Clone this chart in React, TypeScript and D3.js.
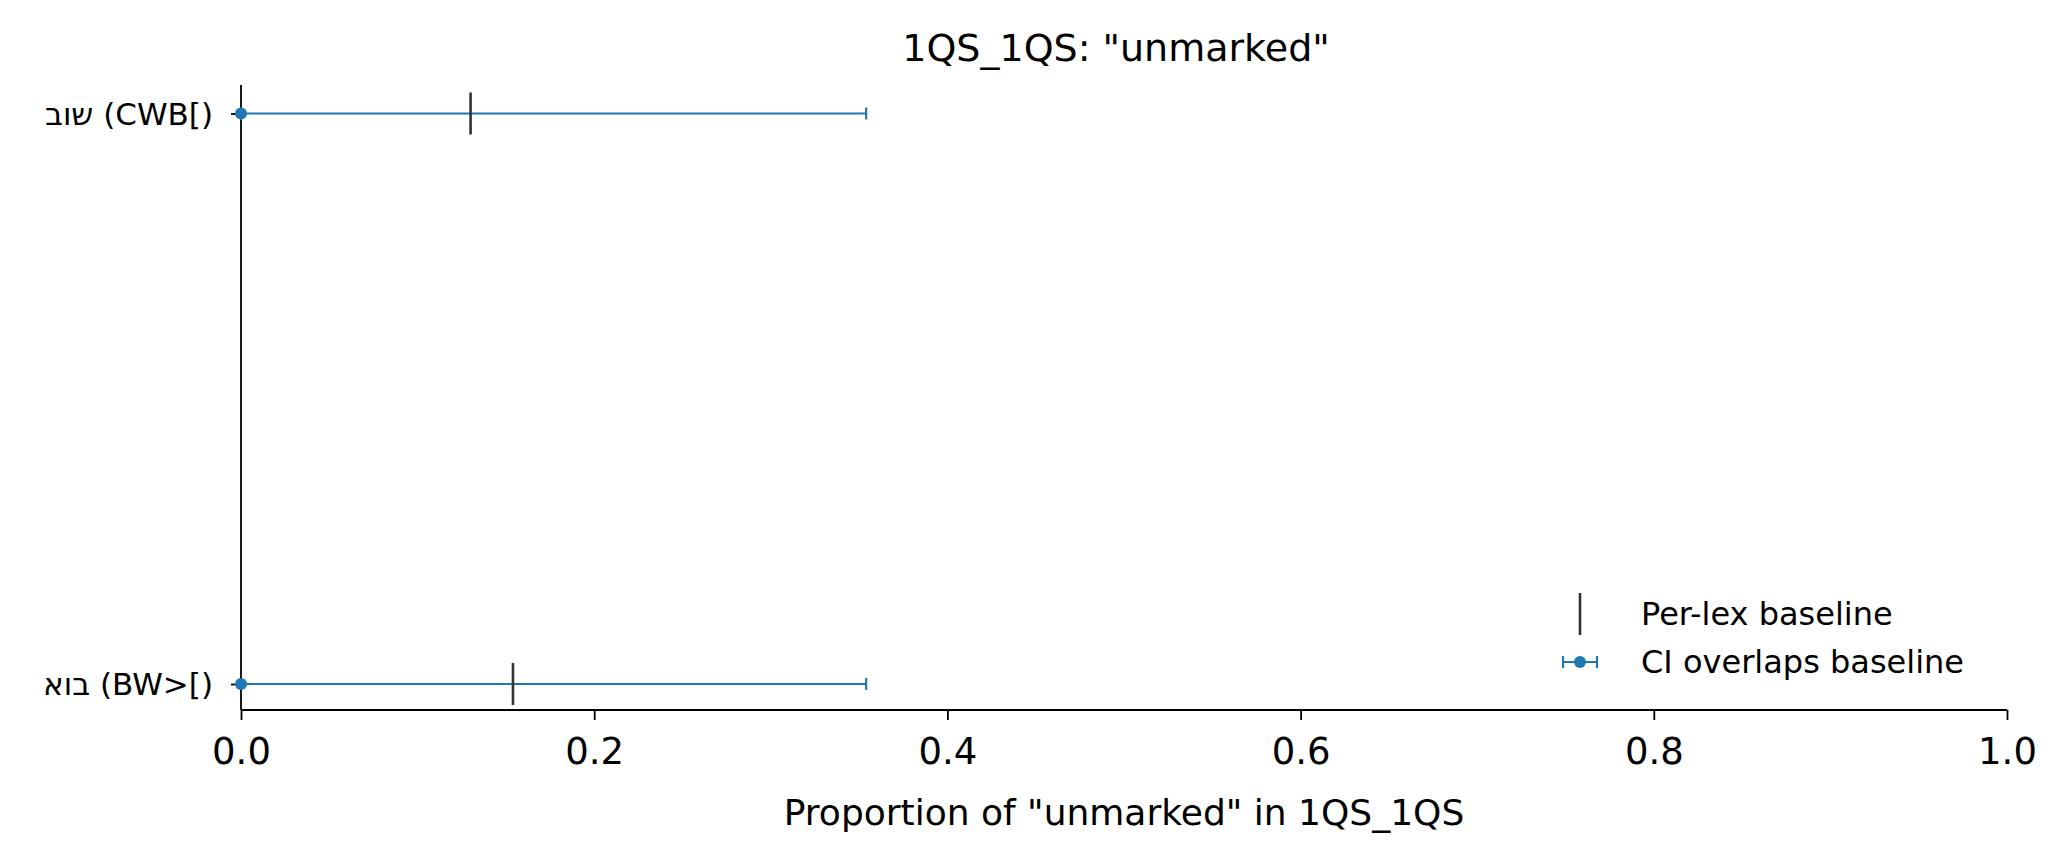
import { useEffect, useRef } from "react";
import * as d3 from "d3";

const categories = ["שוב (CWB[)", "בוא (BW>[)"];
const pointValues = [0.0, 0.0];
const ciLow = [0.0, 0.0];
const ciHigh = [0.354, 0.354];
const baselines = [0.13, 0.154];
const xTicks = [0, 0.2, 0.4, 0.6, 0.8, 1.0];

const W = 2069;
const H = 864;
const blue = "#1f77b4";

export default function App() {
  const ref = useRef<SVGSVGElement>(null);

  useEffect(() => {
    const svg = d3.select(ref.current);
    svg.selectAll("*").remove();
    const m = { left: 241, right: 2007, top: 85, bottom: 710 };

    const x = d3.scaleLinear().domain([0, 1]).range([m.left, m.right]);
    const y = d3.scalePoint<string>().domain(categories).range([113.5, 684]);

    const font = "DejaVu Sans, sans-serif";

    svg.append("text").attr("x", 1116).attr("y", 61)
      .attr("text-anchor", "middle").attr("font-family", font).attr("font-size", 38)
      .text('1QS_1QS: "unmarked"');

    // axes
    const xAxis = d3.axisBottom(x).tickValues(xTicks).tickFormat(d3.format(".1f")).tickSize(10).tickPadding(18);
    const gx = svg.append("g").attr("transform", `translate(0,${m.bottom})`).call(xAxis);
    gx.select(".domain").attr("stroke-width", 1.8).attr("d", `M${m.left},0H${m.right}`);
    gx.selectAll(".tick line").attr("stroke-width", 1.8);
    gx.selectAll("text").attr("font-family", font).attr("font-size", 37).attr("fill", "#000");

    const yAxis = d3.axisLeft(y).tickSize(10).tickPadding(18);
    const gy = svg.append("g").attr("transform", `translate(${m.left},0)`).call(yAxis);
    gy.select(".domain").attr("stroke-width", 1.8).attr("d", `M0,${m.top}V${m.bottom}`);
    gy.selectAll(".tick line").attr("stroke-width", 1.8);
    gy.selectAll("text").attr("font-family", font).attr("font-size", 31).attr("fill", "#000")
      .attr("direction", "ltr").attr("dy", "0.35em");

    svg.append("text").attr("x", (m.left + m.right) / 2 + 0).attr("y", 825)
      .attr("text-anchor", "middle").attr("font-family", font).attr("font-size", 36)
      .text('Proportion of "unmarked" in 1QS_1QS');

    // CI bars
    categories.forEach((c, i) => {
      const cy = y(c)!;
      const g = svg.append("g");
      g.append("line").attr("x1", x(ciLow[i])).attr("x2", x(ciHigh[i])).attr("y1", cy).attr("y2", cy)
        .attr("stroke", blue).attr("stroke-width", 2.2);
      [ciLow[i], ciHigh[i]].forEach((v) =>
        g.append("line").attr("x1", x(v)).attr("x2", x(v)).attr("y1", cy - 6).attr("y2", cy + 6)
          .attr("stroke", blue).attr("stroke-width", 2.2));
      g.append("line").attr("x1", x(baselines[i])).attr("x2", x(baselines[i]))
        .attr("y1", cy - 21).attr("y2", cy + 21).attr("stroke", "#333").attr("stroke-width", 2.6);
      g.append("circle").attr("cx", x(pointValues[i])).attr("cy", cy).attr("r", 6).attr("fill", blue);
    });

    // legend
    const lg = svg.append("g");
    lg.append("line").attr("x1", 1580).attr("x2", 1580).attr("y1", 593).attr("y2", 635)
      .attr("stroke", "#333").attr("stroke-width", 2.6);
    lg.append("line").attr("x1", 1563).attr("x2", 1597).attr("y1", 662).attr("y2", 662)
      .attr("stroke", blue).attr("stroke-width", 2.2);
    [1563, 1597].forEach((lx) => lg.append("line").attr("x1", lx).attr("x2", lx).attr("y1", 656).attr("y2", 668)
      .attr("stroke", blue).attr("stroke-width", 2.2));
    lg.append("circle").attr("cx", 1580).attr("cy", 662).attr("r", 6).attr("fill", blue);
    lg.append("text").attr("x", 1641).attr("y", 614).attr("dy", "0.35em").attr("font-family", font)
      .attr("font-size", 32).text("Per-lex baseline");
    lg.append("text").attr("x", 1641).attr("y", 662).attr("dy", "0.35em").attr("font-family", font)
      .attr("font-size", 32).text("CI overlaps baseline");
  }, []);

  return (
    <svg ref={ref} width={W} height={H}
      style={{ position: "absolute", left: 0, top: 0, background: "#fff" }} />
  );
}
